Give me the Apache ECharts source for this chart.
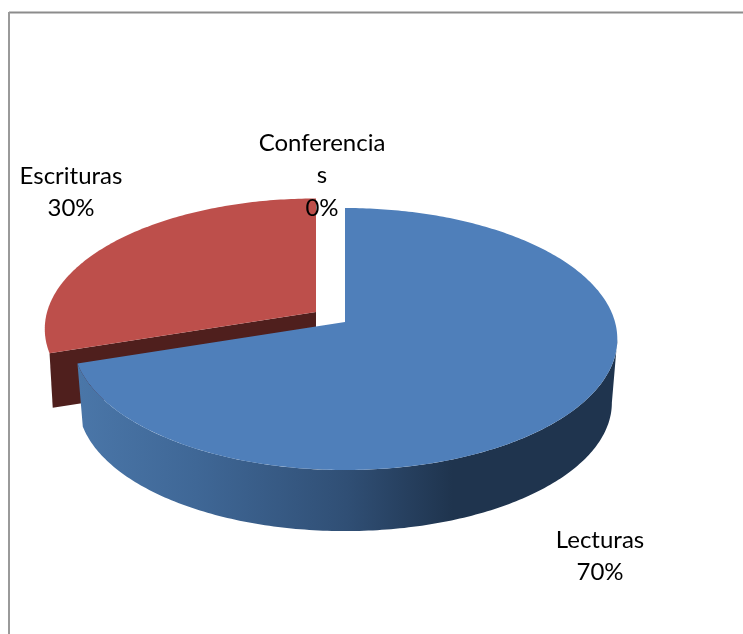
<!DOCTYPE html>
<html>
<head>
<meta charset="utf-8">
<style>html,body{margin:0;padding:0;background:#fff}#chart{width:743px;height:634px}</style>
<script src="https://cdn.jsdelivr.net/npm/echarts@6/dist/echarts.min.js"></script>
</head>
<body>
<div id="chart"></div>
<script>
const categories = ['Lecturas', 'Escrituras', 'Conferencias'];
const values = [70, 30, 0];
const labelLines = [['Lecturas'], ['Escrituras'], ['Conferencia', 's']];

const FONT = 'Lato, "Open Sans", sans-serif';
const total = values.reduce((a, b) => a + b, 0);
const R = 270, S = 128.8, K = 0.13;
const colors = ['#4f7fba', '#bd4f4b', '#9bbb59'];
const sideFill = [{
  type: 'linear', x: 80, y: 0, x2: 612, y2: 0, global: true,
  colorStops: [
    {offset: 0, color: '#4a76a8'}, {offset: 0.22, color: '#3f6796'},
    {offset: 0.5, color: '#304f75'}, {offset: 0.7, color: '#1f344e'},
    {offset: 1, color: '#1f344e'}
  ]
}, '#4f1f1d', '#777'];
// placement of each slice: top face [x, y, scale], bottom face [x, y, scale]
const placement = [
  {top: [345, 322, 1], bot: [345, 386, 0.98]},
  {top: [316, 312, 0.996], bot: [316, 367, 0.984]},
  {top: [330, 316, 1], bot: [330, 370, 0.98]}
];
const labelPos = [[600, 524], [71, 160], [322, 127]];

function proj(theta, p) {
  const u = Math.sin(theta), v = Math.cos(theta), d = 1 + K * v;
  return [p[0] + p[2] * R * u / d, p[1] - p[2] * S * v / d];
}
function arc(a0, a1, p) {
  const n = Math.max(2, Math.ceil((a1 - a0) / 0.015)), pts = [];
  for (let i = 0; i <= n; i++) pts.push(proj(a0 + (a1 - a0) * i / n, p));
  return pts;
}
function poly(points, fill, z2) {
  return {type: 'polygon', z2, shape: {points}, style: {fill, stroke: null}};
}

function renderItem(params, api) {
  const i = params.dataIndex;
  let before = 0;
  for (let k = 0; k < i; k++) before += values[k];
  const a0 = before / total * 2 * Math.PI;
  const a1 = (before + values[i]) / total * 2 * Math.PI;
  const pl = placement[i];
  const children = [];
  if (values[i] > 0) {
    const base = i === 0 ? 10 : 1;
    const ta = arc(a0, a1, pl.top);
    // outer wall, between the ellipse's two silhouette points
    const wA = Math.acos(-K);
    const w0 = Math.max(a0, wA), w1 = Math.min(a1, 2 * Math.PI - wA);
    if (w1 - w0 > 0.3) {
      children.push(poly(arc(w0, w1, pl.top).concat(arc(w0, w1, pl.bot).reverse()), sideFill[i], base));
    }
    // cut face towards the viewer, where the slice starts after the lower half
    if (a0 > Math.PI / 2 && a0 < 1.5 * Math.PI) {
      const c0 = proj(a0, pl.top), c1 = proj(a0, pl.bot);
      children.push(poly([[pl.top[0], pl.top[1]], c0, c1, [pl.bot[0], pl.bot[1]]], sideFill[i], base + 1));
    }
    children.push(poly([[pl.top[0], pl.top[1]]].concat(ta), colors[i], base + 2));
  }
  const pct = Math.round(values[i] / total * 100) + '%';
  const lines = labelLines[i].concat([pct]);
  children.push({
    type: 'text', z2: 30,
    style: {
      x: labelPos[i][0], y: labelPos[i][1], text: lines.join('\n'),
      font: '24px ' + FONT, fill: '#000', align: 'center', verticalAlign: 'top', lineHeight: 32.5
    }
  });
  return {type: 'group', children};
}

const chart = echarts.init(document.getElementById('chart'), null, {renderer: 'canvas'});
chart.setOption({
  animation: false,
  backgroundColor: '#fff',
  graphic: [
    {type: 'line', shape: {x1: 9, y1: 12.5, x2: 743, y2: 12.5}, style: {stroke: '#8c8c8c', lineWidth: 2}},
    {type: 'line', shape: {x1: 9, y1: 12, x2: 9, y2: 634}, style: {stroke: '#9a9a9a', lineWidth: 2}}
  ],
  series: [{
    type: 'custom',
    coordinateSystem: 'none',
    renderItem,
    data: categories.map((name, i) => ({name, value: values[i]}))
  }]
});
</script>
</body>
</html>
